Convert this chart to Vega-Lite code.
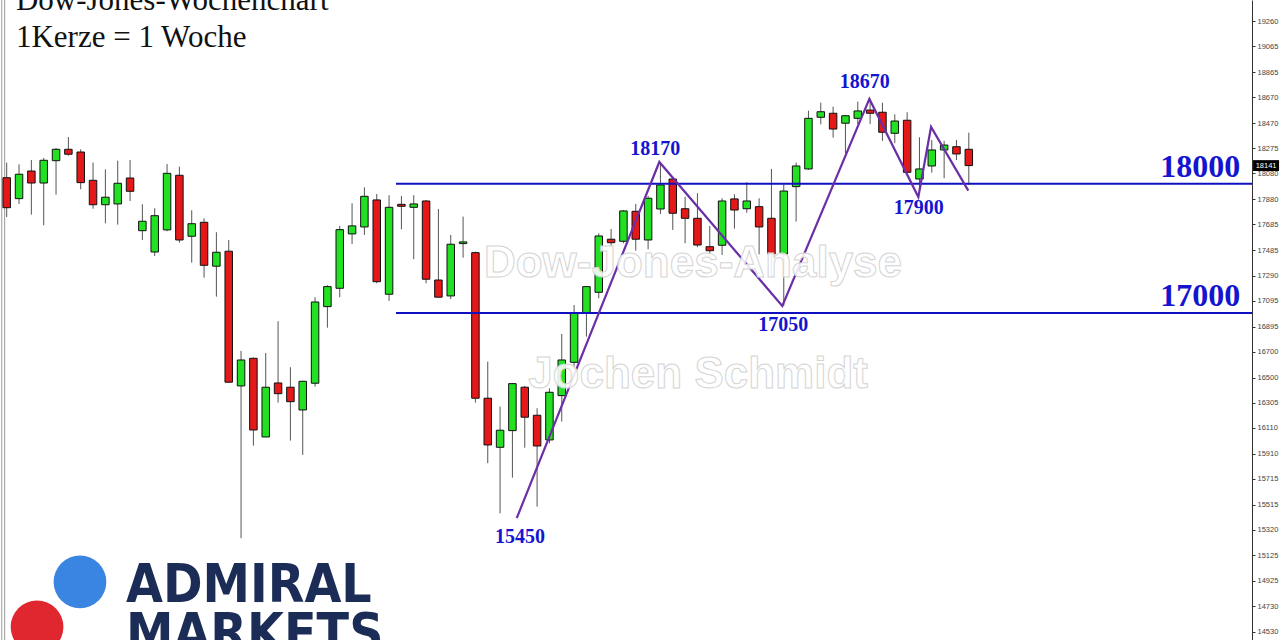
{
  "$schema": "https://vega.github.io/schema/vega-lite/v6.json",
  "width": 1247,
  "height": 640,
  "autosize": {"type": "none"},
  "padding": {"left": 5, "top": 0, "right": 28, "bottom": 0},
  "background": "#ffffff",
  "config": {"view": {"stroke": null}, "scale": {"continuousPadding": 0}},
  "datasets": {
    "candles": [
      {"i":0,"o":18047,"h":18164,"l":17743,"c":17815},
      {"i":1,"o":17885,"h":18151,"l":17844,"c":18074},
      {"i":2,"o":18099,"h":18184,"l":17761,"c":18006},
      {"i":3,"o":18006,"h":18200,"l":17679,"c":18182},
      {"i":4,"o":18179,"h":18277,"l":17916,"c":18267},
      {"i":5,"o":18267,"h":18362,"l":18218,"c":18229},
      {"i":6,"o":18246,"h":18267,"l":17958,"c":18009},
      {"i":7,"o":18027,"h":18164,"l":17807,"c":17838},
      {"i":8,"o":17838,"h":18112,"l":17694,"c":17896},
      {"i":9,"o":17844,"h":18179,"l":17684,"c":18004},
      {"i":10,"o":18045,"h":18184,"l":17867,"c":17942},
      {"i":11,"o":17637,"h":17841,"l":17565,"c":17710},
      {"i":12,"o":17472,"h":17811,"l":17441,"c":17753},
      {"i":13,"o":17643,"h":18153,"l":17633,"c":18081},
      {"i":14,"o":18066,"h":18133,"l":17544,"c":17565},
      {"i":15,"o":17594,"h":17795,"l":17389,"c":17691},
      {"i":16,"o":17702,"h":17733,"l":17273,"c":17369},
      {"i":17,"o":17362,"h":17625,"l":17126,"c":17470},
      {"i":18,"o":17478,"h":17565,"l":16458,"c":16464},
      {"i":19,"o":16435,"h":16706,"l":15256,"c":16636},
      {"i":20,"o":16649,"h":16655,"l":15973,"c":16094},
      {"i":21,"o":16040,"h":16690,"l":16038,"c":16425},
      {"i":22,"o":16458,"h":16936,"l":16306,"c":16375},
      {"i":23,"o":16425,"h":16580,"l":16012,"c":16313},
      {"i":24,"o":16249,"h":16475,"l":15901,"c":16471},
      {"i":25,"o":16456,"h":17122,"l":16430,"c":17085},
      {"i":26,"o":17049,"h":17215,"l":16886,"c":17204},
      {"i":27,"o":17191,"h":17674,"l":17122,"c":17645},
      {"i":28,"o":17612,"h":17849,"l":17534,"c":17674},
      {"i":29,"o":17666,"h":17973,"l":17604,"c":17903},
      {"i":30,"o":17875,"h":17921,"l":17230,"c":17242},
      {"i":31,"o":17145,"h":17911,"l":17093,"c":17818},
      {"i":32,"o":17841,"h":17906,"l":17648,"c":17826},
      {"i":33,"o":17818,"h":17911,"l":17416,"c":17844},
      {"i":34,"o":17867,"h":17875,"l":17230,"c":17261},
      {"i":35,"o":17255,"h":17805,"l":17120,"c":17122},
      {"i":36,"o":17132,"h":17604,"l":17108,"c":17532},
      {"i":37,"o":17537,"h":17746,"l":17428,"c":17550},
      {"i":38,"o":17467,"h":17475,"l":16306,"c":16340},
      {"i":39,"o":16340,"h":16623,"l":15837,"c":15978},
      {"i":40,"o":15960,"h":16275,"l":15449,"c":16092},
      {"i":41,"o":16089,"h":16456,"l":15725,"c":16453},
      {"i":42,"o":16425,"h":16435,"l":15957,"c":16193},
      {"i":43,"o":16208,"h":16262,"l":15501,"c":15970},
      {"i":44,"o":16017,"h":16417,"l":15991,"c":16386},
      {"i":45,"o":16360,"h":16837,"l":16159,"c":16636},
      {"i":46,"o":16618,"h":17062,"l":16564,"c":17002},
      {"i":47,"o":16998,"h":17209,"l":16817,"c":17204},
      {"i":48,"o":17160,"h":17617,"l":17114,"c":17596},
      {"i":49,"o":17571,"h":17650,"l":17521,"c":17544},
      {"i":50,"o":17555,"h":17797,"l":17540,"c":17790},
      {"i":51,"o":17787,"h":17844,"l":17482,"c":17571},
      {"i":52,"o":17565,"h":17906,"l":17493,"c":17888},
      {"i":53,"o":17805,"h":18164,"l":17766,"c":17991},
      {"i":54,"o":18037,"h":18047,"l":17643,"c":17772},
      {"i":55,"o":17807,"h":17900,"l":17540,"c":17733},
      {"i":56,"o":17733,"h":17927,"l":17509,"c":17526},
      {"i":57,"o":17513,"h":17674,"l":17462,"c":17482},
      {"i":58,"o":17524,"h":17888,"l":17449,"c":17867},
      {"i":59,"o":17883,"h":17919,"l":17653,"c":17797},
      {"i":60,"o":17807,"h":18012,"l":17776,"c":17867},
      {"i":61,"o":17823,"h":17888,"l":17454,"c":17666},
      {"i":62,"o":17733,"h":18115,"l":17281,"c":17457},
      {"i":63,"o":17457,"h":17996,"l":17054,"c":17944},
      {"i":64,"o":17978,"h":18164,"l":17707,"c":18138},
      {"i":65,"o":18115,"h":18566,"l":18107,"c":18507},
      {"i":66,"o":18515,"h":18628,"l":18461,"c":18558},
      {"i":67,"o":18546,"h":18597,"l":18357,"c":18424},
      {"i":68,"o":18469,"h":18533,"l":18236,"c":18527},
      {"i":69,"o":18507,"h":18636,"l":18463,"c":18564},
      {"i":70,"o":18571,"h":18657,"l":18463,"c":18546},
      {"i":71,"o":18554,"h":18628,"l":18332,"c":18399},
      {"i":72,"o":18391,"h":18538,"l":18314,"c":18486},
      {"i":73,"o":18492,"h":18554,"l":18082,"c":18089},
      {"i":74,"o":18037,"h":18360,"l":17944,"c":18115},
      {"i":75,"o":18138,"h":18339,"l":18086,"c":18262},
      {"i":76,"o":18262,"h":18332,"l":18043,"c":18300},
      {"i":77,"o":18287,"h":18339,"l":18184,"c":18231},
      {"i":78,"o":18267,"h":18396,"l":17991,"c":18141}
    ],
    "levels": [
      {"v":18000,"start":31.56,"end":100.96,"tx":100,"label":"18000"},
      {"v":17000,"start":31.56,"end":100.96,"tx":100,"label":"17000"}
    ],
    "zig": [
      {"k":1,"i":41.35,"v":15411},
      {"k":2,"i":52.91,"v":18169},
      {"k":3,"i":62.88,"v":17054},
      {"k":4,"i":69.94,"v":18657},
      {"k":5,"i":73.91,"v":17898},
      {"k":6,"i":74.94,"v":18440},
      {"k":7,"i":77.96,"v":17947}
    ],
    "pivots": [
      {"label":"15450","i":41.62,"v":15266},
      {"label":"18170","i":52.58,"v":18267},
      {"label":"17050","i":62.96,"v":16907},
      {"label":"18670","i":69.56,"v":18788},
      {"label":"17900","i":73.94,"v":17815}
    ],
    "marks": [
      {"label":"Dow-Jones-Analyse","i":55.64,"v":17281},
      {"label":"Jochen Schmidt","i":56.05,"v":16417}
    ],
    "title": [
      {"label":"Dow-Jones-Wochenchart","i":0.75,"v":19349},
      {"label":"1Kerze = 1 Woche","i":0.75,"v":19061}
    ],
    "dots": [
      {"name":"blue","i":5.94,"v":14918},
      {"name":"red","i":2.46,"v":14569}
    ],
    "brand": [
      {"label":"ADMIRAL","i":9.67,"v":14765},
      {"label":"MARKETS","i":9.67,"v":14379}
    ],
    "last": [{"p":18141}]
  },
  "layer": [
    {
      "data": {"values": [{"e": -0.4}, {"e": -0.165}]},
      "mark": {"type": "rule", "color": "#9a9a9a", "strokeWidth": 1},
      "encoding": {
        "x": {"field": "e", "type": "quantitative", "scale": {"domain": [-0.138, 100.96], "nice": false, "zero": false, "padding": 0}, "axis": null}
      }
    },
    {
      "data": {"name": "candles"},
      "mark": {"type": "rule", "color": "#555555", "strokeWidth": 1},
      "encoding": {
        "x": {"field": "i", "type": "quantitative", "scale": {"domain": [-0.138, 100.96], "nice": false, "zero": false, "padding": 0}, "axis": null},
        "y": {"field": "l", "type": "quantitative", "scale": {"domain": [14468, 19423], "nice": false, "zero": false}, "axis": {"orient": "right", "title": null, "format": "d", "grid": false, "values": [19260,19065,18865,18670,18470,18275,18080,17880,17685,17485,17290,17095,16895,16700,16500,16305,16110,15910,15715,15515,15320,15125,14925,14730,14530], "labelFont": "Liberation Sans", "labelFontSize": 7.5, "labelColor": "#444444", "labelPadding": 2, "labelFlush": false, "labelOverlap": false, "labelBound": false, "tickSize": 3, "tickColor": "#333333", "tickWidth": 1, "domainColor": "#333333", "domainWidth": 1}},
        "y2": {"field": "h"}
      }
    },
    {
      "data": {"name": "candles"},
      "mark": {"type": "bar", "size": 7.5, "stroke": "#111111", "strokeWidth": 1},
      "encoding": {
        "x": {"field": "i", "type": "quantitative", "scale": {"domain": [-0.138, 100.96], "nice": false, "zero": false, "padding": 0}, "axis": null},
        "y": {"field": "o", "type": "quantitative", "scale": {"domain": [14468, 19423], "nice": false, "zero": false}, "axis": {"orient": "right", "title": null, "format": "d", "grid": false, "values": [19260,19065,18865,18670,18470,18275,18080,17880,17685,17485,17290,17095,16895,16700,16500,16305,16110,15910,15715,15515,15320,15125,14925,14730,14530], "labelFont": "Liberation Sans", "labelFontSize": 7.5, "labelColor": "#444444", "labelPadding": 2, "labelFlush": false, "labelOverlap": false, "labelBound": false, "tickSize": 3, "tickColor": "#333333", "tickWidth": 1, "domainColor": "#333333", "domainWidth": 1}},
        "y2": {"field": "c"},
        "color": {"condition": {"test": "datum.c >= datum.o", "value": "#22e022"}, "value": "#e41818"}
      }
    },
    {
      "data": {"name": "levels"},
      "mark": {"type": "rule", "color": "#1010c0", "strokeWidth": 2},
      "encoding": {
        "x": {"field": "start", "type": "quantitative", "scale": {"domain": [-0.138, 100.96], "nice": false, "zero": false, "padding": 0}, "axis": null},
        "x2": {"field": "end"},
        "y": {"field": "v", "type": "quantitative", "scale": {"domain": [14468, 19423], "nice": false, "zero": false}, "axis": {"orient": "right", "title": null, "format": "d", "grid": false, "values": [19260,19065,18865,18670,18470,18275,18080,17880,17685,17485,17290,17095,16895,16700,16500,16305,16110,15910,15715,15515,15320,15125,14925,14730,14530], "labelFont": "Liberation Sans", "labelFontSize": 7.5, "labelColor": "#444444", "labelPadding": 2, "labelFlush": false, "labelOverlap": false, "labelBound": false, "tickSize": 3, "tickColor": "#333333", "tickWidth": 1, "domainColor": "#333333", "domainWidth": 1}}
      }
    },
    {
      "data": {"name": "levels"},
      "mark": {"type": "text", "font": "Liberation Serif", "fontWeight": "bold", "fontSize": 32, "color": "#1515d0", "align": "right", "baseline": "alphabetic", "dy": -7},
      "encoding": {
        "x": {"field": "tx", "type": "quantitative", "scale": {"domain": [-0.138, 100.96], "nice": false, "zero": false, "padding": 0}, "axis": null},
        "y": {"field": "v", "type": "quantitative", "scale": {"domain": [14468, 19423], "nice": false, "zero": false}, "axis": {"orient": "right", "title": null, "format": "d", "grid": false, "values": [19260,19065,18865,18670,18470,18275,18080,17880,17685,17485,17290,17095,16895,16700,16500,16305,16110,15910,15715,15515,15320,15125,14925,14730,14530], "labelFont": "Liberation Sans", "labelFontSize": 7.5, "labelColor": "#444444", "labelPadding": 2, "labelFlush": false, "labelOverlap": false, "labelBound": false, "tickSize": 3, "tickColor": "#333333", "tickWidth": 1, "domainColor": "#333333", "domainWidth": 1}},
        "text": {"field": "label"}
      }
    },
    {
      "data": {"name": "zig"},
      "mark": {"type": "line", "color": "#6a2ea6", "strokeWidth": 2.2},
      "encoding": {
        "x": {"field": "i", "type": "quantitative", "scale": {"domain": [-0.138, 100.96], "nice": false, "zero": false, "padding": 0}, "axis": null},
        "y": {"field": "v", "type": "quantitative", "scale": {"domain": [14468, 19423], "nice": false, "zero": false}, "axis": {"orient": "right", "title": null, "format": "d", "grid": false, "values": [19260,19065,18865,18670,18470,18275,18080,17880,17685,17485,17290,17095,16895,16700,16500,16305,16110,15910,15715,15515,15320,15125,14925,14730,14530], "labelFont": "Liberation Sans", "labelFontSize": 7.5, "labelColor": "#444444", "labelPadding": 2, "labelFlush": false, "labelOverlap": false, "labelBound": false, "tickSize": 3, "tickColor": "#333333", "tickWidth": 1, "domainColor": "#333333", "domainWidth": 1}},
        "order": {"field": "k"}
      }
    },
    {
      "data": {"name": "pivots"},
      "mark": {"type": "text", "font": "Liberation Serif", "fontWeight": "bold", "fontSize": 20, "color": "#1515d0", "align": "center", "baseline": "middle"},
      "encoding": {
        "x": {"field": "i", "type": "quantitative", "scale": {"domain": [-0.138, 100.96], "nice": false, "zero": false, "padding": 0}, "axis": null},
        "y": {"field": "v", "type": "quantitative", "scale": {"domain": [14468, 19423], "nice": false, "zero": false}, "axis": {"orient": "right", "title": null, "format": "d", "grid": false, "values": [19260,19065,18865,18670,18470,18275,18080,17880,17685,17485,17290,17095,16895,16700,16500,16305,16110,15910,15715,15515,15320,15125,14925,14730,14530], "labelFont": "Liberation Sans", "labelFontSize": 7.5, "labelColor": "#444444", "labelPadding": 2, "labelFlush": false, "labelOverlap": false, "labelBound": false, "tickSize": 3, "tickColor": "#333333", "tickWidth": 1, "domainColor": "#333333", "domainWidth": 1}},
        "text": {"field": "label"}
      }
    },
    {
      "data": {"name": "marks"},
      "mark": {"type": "text", "font": "Liberation Sans", "fontWeight": "bold", "fontSize": 44, "fill": "#ffffff", "fillOpacity": 0.88, "stroke": "#d4d4d4", "strokeWidth": 1, "align": "center", "baseline": "alphabetic"},
      "encoding": {
        "x": {"field": "i", "type": "quantitative", "scale": {"domain": [-0.138, 100.96], "nice": false, "zero": false, "padding": 0}, "axis": null},
        "y": {"field": "v", "type": "quantitative", "scale": {"domain": [14468, 19423], "nice": false, "zero": false}, "axis": {"orient": "right", "title": null, "format": "d", "grid": false, "values": [19260,19065,18865,18670,18470,18275,18080,17880,17685,17485,17290,17095,16895,16700,16500,16305,16110,15910,15715,15515,15320,15125,14925,14730,14530], "labelFont": "Liberation Sans", "labelFontSize": 7.5, "labelColor": "#444444", "labelPadding": 2, "labelFlush": false, "labelOverlap": false, "labelBound": false, "tickSize": 3, "tickColor": "#333333", "tickWidth": 1, "domainColor": "#333333", "domainWidth": 1}},
        "text": {"field": "label"}
      }
    },
    {
      "data": {"name": "title"},
      "mark": {"type": "text", "font": "Liberation Serif", "fontSize": 31, "color": "#111111", "align": "left", "baseline": "alphabetic"},
      "encoding": {
        "x": {"field": "i", "type": "quantitative", "scale": {"domain": [-0.138, 100.96], "nice": false, "zero": false, "padding": 0}, "axis": null},
        "y": {"field": "v", "type": "quantitative", "scale": {"domain": [14468, 19423], "nice": false, "zero": false}, "axis": {"orient": "right", "title": null, "format": "d", "grid": false, "values": [19260,19065,18865,18670,18470,18275,18080,17880,17685,17485,17290,17095,16895,16700,16500,16305,16110,15910,15715,15515,15320,15125,14925,14730,14530], "labelFont": "Liberation Sans", "labelFontSize": 7.5, "labelColor": "#444444", "labelPadding": 2, "labelFlush": false, "labelOverlap": false, "labelBound": false, "tickSize": 3, "tickColor": "#333333", "tickWidth": 1, "domainColor": "#333333", "domainWidth": 1}},
        "text": {"field": "label"}
      }
    },
    {
      "data": {"name": "dots"},
      "mark": {"type": "point", "shape": "circle", "filled": true, "opacity": 1, "size": 2780},
      "encoding": {
        "x": {"field": "i", "type": "quantitative", "scale": {"domain": [-0.138, 100.96], "nice": false, "zero": false, "padding": 0}, "axis": null},
        "y": {"field": "v", "type": "quantitative", "scale": {"domain": [14468, 19423], "nice": false, "zero": false}, "axis": {"orient": "right", "title": null, "format": "d", "grid": false, "values": [19260,19065,18865,18670,18470,18275,18080,17880,17685,17485,17290,17095,16895,16700,16500,16305,16110,15910,15715,15515,15320,15125,14925,14730,14530], "labelFont": "Liberation Sans", "labelFontSize": 7.5, "labelColor": "#444444", "labelPadding": 2, "labelFlush": false, "labelOverlap": false, "labelBound": false, "tickSize": 3, "tickColor": "#333333", "tickWidth": 1, "domainColor": "#333333", "domainWidth": 1}},
        "color": {"field": "name", "type": "nominal", "scale": {"domain": ["blue", "red"], "range": ["#3a85e2", "#e0262f"]}, "legend": null}
      }
    },
    {
      "data": {"name": "brand"},
      "mark": {"type": "text", "font": "DejaVu Sans Condensed, DejaVu Sans, sans-serif", "fontWeight": "bold", "fontSize": 53, "color": "#1b2c56", "align": "left", "baseline": "alphabetic"},
      "encoding": {
        "x": {"field": "i", "type": "quantitative", "scale": {"domain": [-0.138, 100.96], "nice": false, "zero": false, "padding": 0}, "axis": null},
        "y": {"field": "v", "type": "quantitative", "scale": {"domain": [14468, 19423], "nice": false, "zero": false}, "axis": {"orient": "right", "title": null, "format": "d", "grid": false, "values": [19260,19065,18865,18670,18470,18275,18080,17880,17685,17485,17290,17095,16895,16700,16500,16305,16110,15910,15715,15515,15320,15125,14925,14730,14530], "labelFont": "Liberation Sans", "labelFontSize": 7.5, "labelColor": "#444444", "labelPadding": 2, "labelFlush": false, "labelOverlap": false, "labelBound": false, "tickSize": 3, "tickColor": "#333333", "tickWidth": 1, "domainColor": "#333333", "domainWidth": 1}},
        "text": {"field": "label"}
      }
    },
    {
      "data": {"name": "last"},
      "mark": {"type": "point", "shape": "M-1,-0.42H1V0.42H-1Z", "filled": true, "opacity": 1, "color": "#000000", "size": 676},
      "encoding": {
        "x": {"datum": 102.1, "type": "quantitative", "scale": {"domain": [-0.138, 100.96], "nice": false, "zero": false, "padding": 0}, "axis": null},
        "y": {"field": "p", "type": "quantitative", "scale": {"domain": [14468, 19423], "nice": false, "zero": false}, "axis": {"orient": "right", "title": null, "format": "d", "grid": false, "values": [19260,19065,18865,18670,18470,18275,18080,17880,17685,17485,17290,17095,16895,16700,16500,16305,16110,15910,15715,15515,15320,15125,14925,14730,14530], "labelFont": "Liberation Sans", "labelFontSize": 7.5, "labelColor": "#444444", "labelPadding": 2, "labelFlush": false, "labelOverlap": false, "labelBound": false, "tickSize": 3, "tickColor": "#333333", "tickWidth": 1, "domainColor": "#333333", "domainWidth": 1}}
      }
    },
    {
      "data": {"name": "last"},
      "mark": {"type": "text", "font": "Liberation Sans", "fontSize": 7.5, "color": "#ffffff", "align": "center", "baseline": "middle"},
      "encoding": {
        "x": {"datum": 102.1, "type": "quantitative", "scale": {"domain": [-0.138, 100.96], "nice": false, "zero": false, "padding": 0}, "axis": null},
        "y": {"field": "p", "type": "quantitative", "scale": {"domain": [14468, 19423], "nice": false, "zero": false}, "axis": {"orient": "right", "title": null, "format": "d", "grid": false, "values": [19260,19065,18865,18670,18470,18275,18080,17880,17685,17485,17290,17095,16895,16700,16500,16305,16110,15910,15715,15515,15320,15125,14925,14730,14530], "labelFont": "Liberation Sans", "labelFontSize": 7.5, "labelColor": "#444444", "labelPadding": 2, "labelFlush": false, "labelOverlap": false, "labelBound": false, "tickSize": 3, "tickColor": "#333333", "tickWidth": 1, "domainColor": "#333333", "domainWidth": 1}},
        "text": {"field": "p", "type": "quantitative", "format": "d"}
      }
    }
  ]
}
